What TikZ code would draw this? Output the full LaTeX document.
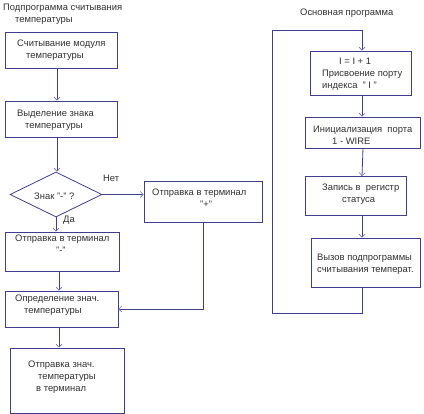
\documentclass[tikz,border=0pt]{standalone}
\usepackage{fontspec}
\setmainfont{Liberation Sans}
\usetikzlibrary{shapes.geometric,arrows.meta}
\definecolor{ln}{HTML}{3F3F8F}
\definecolor{ah}{HTML}{7070C0}
\definecolor{tx}{HTML}{303030}
\begin{document}
\begin{tikzpicture}[x=1pt,y=-1pt,
  every node/.style={font=\fontsize{9.4}{12}\selectfont, text=tx},
  box/.style={draw=ln, line width=0.8pt, inner sep=0pt},
  txt/.style={anchor=north west, inner sep=0pt, align=left, yshift=-2pt},
  arr/.style={draw=ln, line width=0.8pt, -{Straight Barb[length=3pt,width=6pt,line width=0.6pt,color=ah]}},
  ln/.style={draw=ln, line width=0.8pt}]
\useasboundingbox (0,0) rectangle (424,414);
\node[txt] (t1) at (3,2) {Подпрограмма считывания\\\hspace*{12pt}температуры};
\node[txt] (t2) at (300,7) {Основная программа};

\node[box, minimum width=112pt, minimum height=36pt] (b1) at (61,50) {};
\node[box, minimum width=112pt, minimum height=36pt] (b2) at (61,119) {};
\node[draw=ln, line width=0.8pt, diamond, aspect=2, inner sep=0pt, minimum width=92pt, minimum height=45pt] (d) at (56,194.5) {};
\node[box, minimum width=118pt, minimum height=41pt] (b3) at (203,201.5) {};
\node[box, minimum width=114pt, minimum height=39pt] (b4) at (62,251.5) {};
\node[box, minimum width=113pt, minimum height=36pt] (b5) at (61.5,309) {};
\node[box, minimum width=114pt, minimum height=65pt] (b6) at (67,380.5) {};

\node[box, minimum width=101pt, minimum height=44pt] (r1) at (360.5,73) {};
\node[box, minimum width=115pt, minimum height=31pt] (r2) at (363,132.5) {};
\node[box, minimum width=101pt, minimum height=39pt] (r3) at (355.5,196) {};
\node[box, minimum width=109pt, minimum height=49pt] (r4) at (365.5,262.5) {};

\node[txt] (b1t) at (17,37.5) {Считывание модуля\\\hspace*{9pt}температуры};
\node[txt] (b2t) at (17,108) {Выделение знака\\\hspace*{8pt}температуры};
\node[txt] (dt) at (34,191) {Знак "-" ?};
\node[txt] (b3t) at (152,186.5) {Отправка в терминал\\\hspace*{48pt}"+"};
\node[txt] (b4t) at (15,233) {Отправка в терминал\\\hspace*{41pt}"-"};
\node[txt] (b5t) at (15,292.5) {Определение знач.\\\hspace*{9pt}температуры};
\node[txt] (b6t) at (28,358.5) {Отправка знач.\\\hspace*{10pt}температуры\\\hspace*{8pt}в терминал};
\node[txt] (r1t) at (322,55.5) {\hspace*{17pt}I = I + 1\\Присвоение порту\\индекса \ " I "};
\node[txt] (r2t) at (313,123.5) {Инициализация \ порта\\\hspace*{19pt}1 - WIRE};
\node[txt] (r3t) at (322,181.5) {Запись в \ регистр\\\hspace*{20pt}статуса};
\node[txt] (r4t) at (317,251.5) {Вызов подпрограммы\\считывания температ.};

\node[txt] (no) at (103,173) {Нет};
\node[txt] (yes) at (63,214) {Да};

\draw[arr] ([xshift=-4pt]b1.south) -- ([xshift=-4pt]b2.north);
\draw[arr] ([xshift=-4pt]b2.south) -- ([xshift=-4pt]b2.south |- d.north);
\draw[arr] (d.south) -- (d.south |- b4.north);
\draw[arr] (d.east) -- (b3.west |- d.east);
\draw[arr] ([xshift=-3pt]b4.south) -- ([xshift=-2.5pt]b5.north);
\draw[arr] ([xshift=-2.5pt]b5.south) -- ([xshift=-2.5pt]b5.south |- b6.north);
\draw[arr] (b3.south) -- (b3.south |- b5.east) -- (b5.east);

\coordinate (lb) at (272,313);
\coordinate (lt) at (272,30);
\draw[arr] ([xshift=1.5pt]r1.south) -- ([xshift=-1pt]r2.north);
\draw[arr] (r2.south) -- ([xshift=6.5pt]r3.north);
\draw[arr] ([xshift=6.5pt]r3.south) -- ([xshift=-3.5pt]r4.north);
\draw[ln] ([xshift=-3.5pt]r4.south) -- ([xshift=-3.5pt]r4.south |- lb) -- (lb) -- (lt) -- ([xshift=1.5pt]r1.north |- lt);
\draw[arr] ([xshift=1.5pt]r1.north |- lt) -- ([xshift=1.5pt]r1.north);
\end{tikzpicture}
\end{document}
